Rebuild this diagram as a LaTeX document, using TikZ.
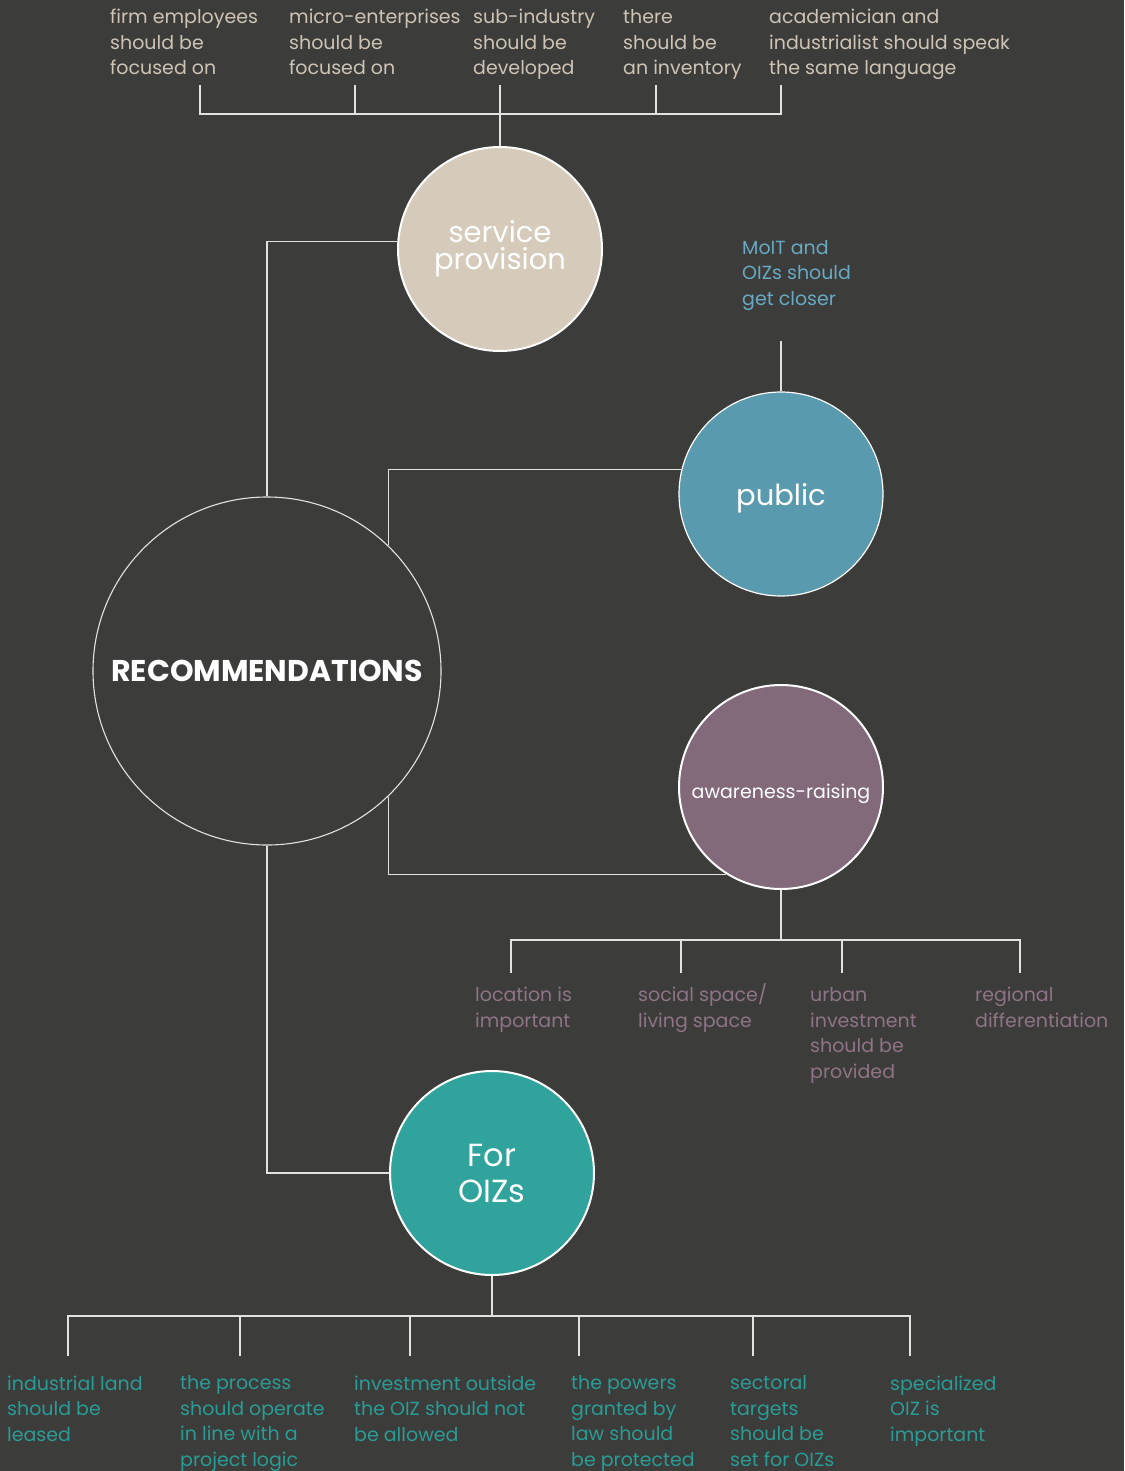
\documentclass[tikz,border=0pt]{standalone}
\usepackage{fontspec}
\setmainfont{Poppins}
\definecolor{bgdark}{RGB}{60,60,58}
\definecolor{sand}{RGB}{214,203,186}
\definecolor{sandtext}{RGB}{206,196,182}
\definecolor{steel}{RGB}{90,154,174}
\definecolor{steeltext}{RGB}{104,170,196}
\definecolor{plum}{RGB}{130,106,123}
\definecolor{plumtext}{RGB}{142,116,134}
\definecolor{jade}{RGB}{47,163,156}
\definecolor{jadetext}{RGB}{42,156,150}
\definecolor{wire}{RGB}{226,226,224}
\begin{document}
\begin{tikzpicture}[x=1pt,y=-1pt,
  bubble/.style={circle, draw=white, line width=2pt, minimum size=204pt,
    inner sep=0pt, align=center, text=white},
  link/.style={draw=wire, line width=1.3pt},
  % multi-line notes are placed by the baseline of their last line
  note/.style={anchor=base west, inner sep=0pt, align=left,
    font=\fontsize{19}{25.5}\selectfont}
]
% canvas
\fill[bgdark] (0,0) rectangle (1124,1471);
\useasboundingbox (0,0) rectangle (1124,1471);

% main bubbles
\node[circle, draw=wire, line width=1.1pt, minimum size=348pt, inner sep=0pt,
  text=white, font=\fontsize{30}{32}\selectfont\bfseries] (rec) at (267,671) {RECOMMENDATIONS};
\node[bubble, fill=sand, font=\fontsize{29}{27}\selectfont] (svc) at (500,249) {service\\provision};
\node[bubble, fill=steel, line width=1.2pt, font=\fontsize{29}{32}\selectfont] (pub) at (781,494)
  {\raisebox{-4pt}[\height][\depth]{public}};
\node[bubble, fill=plum, font=\fontsize{19}{22}\selectfont] (aware) at (781,787)
  {\raisebox{-7pt}[\height][\depth]{awareness-raising}};
\node[bubble, fill=jade, font=\fontsize{32}{36}\selectfont] (oiz) at (492,1173) {For\\OIZs};

% service provision branch
\node[note, text=sandtext] (t1) at (110,75) {firm employees\\should be\\focused on};
\node[note, text=sandtext] (t2) at (289,75) {micro-enterprises\\should be\\focused on};
\node[note, text=sandtext] (t3) at (473,75) {sub-industry\\should be\\developed};
\node[note, text=sandtext] (t4) at (623,75) {there\\should be\\an inventory};
\node[note, text=sandtext] (t5) at (769,75) {academician and\\industrialist should speak\\the same language};
\coordinate (tA) at (200,85);
\coordinate (tB) at (355,85);
\coordinate (tC) at (500,85);
\coordinate (tD) at (656,85);
\coordinate (tE) at (781,85);
\coordinate (tBar) at (500,114);
\draw[link] (tA) |- (tBar) -| (tE);
\draw[link] (tB) -- (tB |- tBar);
\draw[link] (tD) -- (tD |- tBar);
\draw[link] (tC) -- (svc.north);

% public branch
\node[note, text=steeltext] (p1) at (742,305) {MoIT and\\OIZs should\\get closer};
\coordinate (pTip) at (781,341);
\draw[link] (pub.north) -- (pTip);

% awareness-raising branch
\node[note, text=plumtext] (a1) at (475,1027) {location is\\important};
\node[note, text=plumtext] (a2) at (638,1027) {social space/\\living space};
\node[note, text=plumtext] (a3) at (810,1078) {urban\\investment\\should be\\provided};
\node[note, text=plumtext] (a4) at (975,1027) {regional\\differentiation};
\coordinate (aA) at (511,973);
\coordinate (aB) at (681,973);
\coordinate (aC) at (842,973);
\coordinate (aD) at (1020,973);
\coordinate (aBar) at (781,940);
\draw[link] (aware.south) -- (aBar);
\draw[link] (aA) |- (aBar) -| (aD);
\draw[link] (aB) -- (aB |- aBar);
\draw[link] (aC) -- (aC |- aBar);

% For OIZs branch
\node[note, text=jadetext] (o1) at (7,1441) {industrial land\\should be\\leased};
\node[note, text=jadetext] (o2) at (180,1466) {the process\\should operate\\in line with a\\project logic};
\node[note, text=jadetext] (o3) at (354,1441) {investment outside\\the OIZ should not\\be allowed};
\node[note, text=jadetext] (o4) at (571,1466) {the powers\\granted by\\law should\\be protected};
\node[note, text=jadetext] (o5) at (730,1466) {sectoral\\targets\\should be\\set for OIZs};
\node[note, text=jadetext] (o6) at (890,1441) {specialized\\OIZ is\\important};
\coordinate (oA) at (68,1356);
\coordinate (oB) at (240,1356);
\coordinate (oC) at (410,1356);
\coordinate (oD) at (579,1356);
\coordinate (oE) at (753,1356);
\coordinate (oF) at (910,1356);
\coordinate (oBar) at (oiz.south |- 0,1316);
\draw[link] (oiz.south) -- (oBar);
\draw[link] (oA) |- (oBar) -| (oF);
\draw[link] (oB) -- (oB |- oBar);
\draw[link] (oC) -- (oC |- oBar);
\draw[link] (oD) -- (oD |- oBar);
\draw[link] (oE) -- (oE |- oBar);

% links between the central bubble and the four themes
\draw[link] (svc.176) -| (rec.north);
\draw[link] (pub.166) -| (rec.46);
\draw[link] (rec.-46) |- (aware.238);
\draw[link] (rec.south) |- (oiz.west);
\end{tikzpicture}
\end{document}
